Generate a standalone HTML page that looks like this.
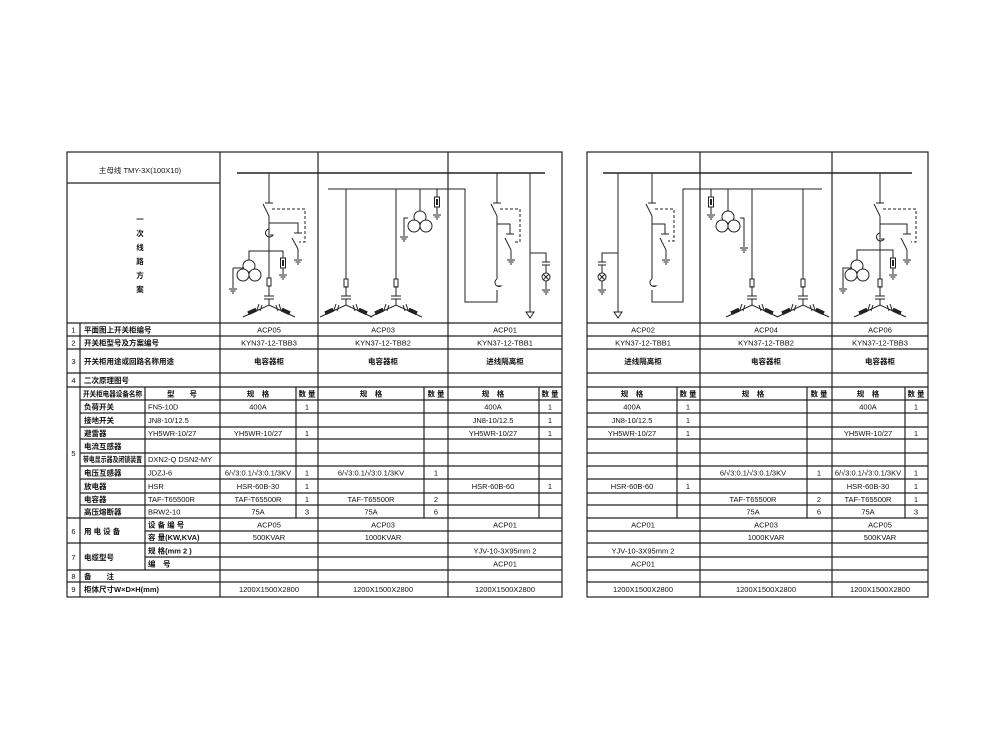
<!DOCTYPE html>
<html><head><meta charset="utf-8"><style>
html,body{margin:0;padding:0;background:#fff;}
svg{display:block}
text{font-family:"Liberation Sans","Noto Sans CJK SC",sans-serif;font-size:7.5px;fill:#111}
.c{text-anchor:middle}
.b{font-weight:bold}
</style></head><body>
<svg width="1000" height="750" viewBox="0 0 1000 750" xmlns="http://www.w3.org/2000/svg">
<rect width="1000" height="750" fill="#fff"/>
<defs>
<g id="gnd" stroke="#222" stroke-width="1"><line x1="-4" y1="0" x2="4" y2="0"/><line x1="-2.5" y1="2" x2="2.5" y2="2"/><line x1="-1" y1="4" x2="1" y2="4"/></g>
<g id="star" stroke="#222" stroke-width="1" fill="none">
<line x1="0" y1="0" x2="0" y2="10"/>
<line x1="-5" y1="10" x2="5" y2="10"/><line x1="-5" y1="13" x2="5" y2="13"/>
<line x1="0" y1="13" x2="0" y2="19"/>
<polyline points="-26,31 0,19 26,31"/>
<line x1="-7" y1="19" x2="-9" y2="25"/><line x1="-10" y1="18" x2="-12" y2="24"/>
<line x1="7" y1="19" x2="9" y2="25"/><line x1="10" y1="18" x2="12" y2="24"/>
<rect x="-21" y="24" width="8" height="3" fill="#222" transform="rotate(-25 -17 25)"/>
<rect x="13" y="24" width="8" height="3" fill="#222" transform="rotate(25 17 25)"/>
</g>
<g id="fuse"><rect x="-2" y="0" width="4" height="8" fill="#fff" stroke="#222"/></g>
<g id="arr"><rect x="-2.5" y="0" width="5" height="10" fill="#fff" stroke="#222"/><rect x="-1" y="2" width="2" height="6" fill="#222"/></g>
<g id="pt" stroke="#222" fill="#fff"><circle cx="0" cy="0" r="6"/><circle cx="-6" cy="9" r="6"/><circle cx="6" cy="9" r="6"/></g>
</defs>

<g stroke="#222" stroke-width="1.2" fill="none">
<rect x="67" y="152" width="495" height="445"/>
<line x1="67" y1="183" x2="220" y2="183"/>
<line x1="220" y1="152" x2="220" y2="597"/>
<line x1="318" y1="152" x2="318" y2="597"/>
<line x1="448" y1="152" x2="448" y2="597"/>
<line x1="80" y1="323" x2="80" y2="597"/>
<line x1="145" y1="387" x2="145" y2="570"/>
<line x1="296" y1="387" x2="296" y2="518"/>
<line x1="424" y1="387" x2="424" y2="518"/>
<line x1="539" y1="387" x2="539" y2="518"/>
<line x1="67" y1="323" x2="562" y2="323"/>
<line x1="67" y1="336" x2="562" y2="336"/>
<line x1="67" y1="349" x2="562" y2="349"/>
<line x1="67" y1="373" x2="562" y2="373"/>
<line x1="67" y1="387" x2="562" y2="387"/>
<line x1="80" y1="400" x2="562" y2="400"/>
<line x1="80" y1="413" x2="562" y2="413"/>
<line x1="80" y1="427" x2="562" y2="427"/>
<line x1="80" y1="439" x2="562" y2="439"/>
<line x1="80" y1="453" x2="562" y2="453"/>
<line x1="80" y1="466" x2="562" y2="466"/>
<line x1="80" y1="479" x2="562" y2="479"/>
<line x1="80" y1="493" x2="562" y2="493"/>
<line x1="80" y1="505" x2="562" y2="505"/>
<line x1="67" y1="518" x2="562" y2="518"/>
<line x1="145" y1="531" x2="562" y2="531"/>
<line x1="67" y1="543" x2="562" y2="543"/>
<line x1="145" y1="557" x2="562" y2="557"/>
<line x1="67" y1="570" x2="562" y2="570"/>
<line x1="67" y1="582" x2="562" y2="582"/>
</g>

<g stroke="#222" stroke-width="1.2" fill="none">
<rect x="587" y="152" width="341" height="445"/>
<line x1="700" y1="152" x2="700" y2="597"/>
<line x1="832" y1="152" x2="832" y2="597"/>
<line x1="677" y1="387" x2="677" y2="518"/>
<line x1="807" y1="387" x2="807" y2="518"/>
<line x1="905" y1="387" x2="905" y2="518"/>
<line x1="587" y1="323" x2="928" y2="323"/>
<line x1="587" y1="336" x2="928" y2="336"/>
<line x1="587" y1="349" x2="928" y2="349"/>
<line x1="587" y1="373" x2="928" y2="373"/>
<line x1="587" y1="387" x2="928" y2="387"/>
<line x1="587" y1="400" x2="928" y2="400"/>
<line x1="587" y1="413" x2="928" y2="413"/>
<line x1="587" y1="427" x2="928" y2="427"/>
<line x1="587" y1="439" x2="928" y2="439"/>
<line x1="587" y1="453" x2="928" y2="453"/>
<line x1="587" y1="466" x2="928" y2="466"/>
<line x1="587" y1="479" x2="928" y2="479"/>
<line x1="587" y1="493" x2="928" y2="493"/>
<line x1="587" y1="505" x2="928" y2="505"/>
<line x1="587" y1="518" x2="928" y2="518"/>
<line x1="587" y1="531" x2="928" y2="531"/>
<line x1="587" y1="543" x2="928" y2="543"/>
<line x1="587" y1="557" x2="928" y2="557"/>
<line x1="587" y1="570" x2="928" y2="570"/>
<line x1="587" y1="582" x2="928" y2="582"/>
</g>

<g stroke="#222" stroke-width="1" fill="none">
<line x1="237" y1="173" x2="545" y2="173" stroke-width="1.4"/>
<line x1="269" y1="173" x2="269" y2="203"/><line x1="265" y1="203" x2="273" y2="203"/>
<line x1="263" y1="204" x2="269" y2="216"/><line x1="269" y1="216" x2="269" y2="289"/>
<polyline points="272,209 305,209 305,242 299,242" stroke-dasharray="3,2"/>
<polyline points="269,223 298,223 298,233"/><line x1="294" y1="233" x2="302" y2="233"/>
<line x1="292" y1="238" x2="298" y2="249"/><line x1="298" y1="249" x2="298" y2="259"/>
<path d="M269,229 a4,4 0 1 0 4,6 h-3"/>
<polyline points="249,262 249,251 283,251 283,258"/>
<line x1="283" y1="268" x2="283" y2="274"/>
<line x1="243" y1="268" x2="233" y2="268"/><line x1="233" y1="268" x2="233" y2="288"/>
</g>
<use href="#gnd" x="298" y="260"/><use href="#arr" x="283" y="258"/><use href="#gnd" x="283" y="275"/>
<use href="#pt" x="249" y="266"/><use href="#gnd" x="233" y="289"/>
<use href="#fuse" x="269" y="278"/><use href="#star" x="269" y="286"/>

<g stroke="#222" stroke-width="1" fill="none">
<polyline points="328,189 465,189 465,302 497,302 497,290"/>
<line x1="346" y1="189" x2="346" y2="279"/><line x1="396" y1="189" x2="396" y2="279"/>
<line x1="420" y1="189" x2="420" y2="211"/>
<polyline points="408,218 404,218 404,236"/>
<line x1="437" y1="189" x2="437" y2="197"/><line x1="437" y1="207" x2="437" y2="214"/>
</g>
<use href="#fuse" x="346" y="279"/><use href="#star" x="346" y="286"/>
<use href="#fuse" x="396" y="279"/><use href="#star" x="396" y="286"/>
<use href="#pt" x="420" y="217"/><use href="#gnd" x="404" y="237"/>
<use href="#arr" x="437" y="197"/><use href="#gnd" x="437" y="215"/>

<g stroke="#222" stroke-width="1" fill="none">
<line x1="497" y1="173" x2="497" y2="203"/><line x1="493" y1="203" x2="501" y2="203"/>
<line x1="491" y1="204" x2="497" y2="216"/><line x1="497" y1="216" x2="497" y2="279"/>
<polyline points="500,209 520,209 520,242 513,242" stroke-dasharray="3,2"/>
<polyline points="497,224 510,224 510,234"/><line x1="506" y1="234" x2="514" y2="234"/>
<line x1="505" y1="238" x2="511" y2="250"/><line x1="511" y1="250" x2="511" y2="259"/>
<path d="M497,279 a4,4 0 1 0 4,7 h-4"/>
<line x1="530" y1="173" x2="530" y2="312"/>
<polygon points="526,312 534,312 530,318"/>
<polyline points="530,253 546,253 546,262"/>
<line x1="542" y1="262" x2="550" y2="262"/><line x1="542" y1="265" x2="550" y2="265"/>
<line x1="546" y1="265" x2="546" y2="273"/>
<circle cx="546" cy="277" r="4"/><line x1="543" y1="274" x2="549" y2="280"/><line x1="549" y1="274" x2="543" y2="280"/>
<line x1="546" y1="281" x2="546" y2="289"/>
</g>
<use href="#gnd" x="511" y="260"/><use href="#gnd" x="546" y="290"/>

<g stroke="#222" stroke-width="1" fill="none">
<line x1="603" y1="173" x2="912" y2="173" stroke-width="1.4"/>
<line x1="618" y1="173" x2="618" y2="312"/>
<polygon points="614,312 622,312 618,318"/>
<polyline points="618,253 602,253 602,262"/>
<line x1="598" y1="262" x2="606" y2="262"/><line x1="598" y1="265" x2="606" y2="265"/>
<line x1="602" y1="265" x2="602" y2="273"/>
<circle cx="602" cy="277" r="4"/><line x1="599" y1="274" x2="605" y2="280"/><line x1="605" y1="274" x2="599" y2="280"/>
<line x1="602" y1="281" x2="602" y2="289"/>
<line x1="652" y1="173" x2="652" y2="203"/><line x1="648" y1="203" x2="656" y2="203"/>
<line x1="646" y1="204" x2="652" y2="216"/><line x1="652" y1="216" x2="652" y2="279"/>
<polyline points="655,209 674,209 674,241 668,241" stroke-dasharray="3,2"/>
<polyline points="652,224 665,224 665,234"/><line x1="661" y1="234" x2="669" y2="234"/>
<line x1="660" y1="238" x2="666" y2="250"/><line x1="666" y1="250" x2="666" y2="259"/>
<path d="M652,279 a4,4 0 1 0 4,7 h-4"/>
<polyline points="652,290 652,302 683,302 683,189 822,189"/>
<line x1="711" y1="189" x2="711" y2="197"/><line x1="711" y1="207" x2="711" y2="214"/>
<line x1="728" y1="189" x2="728" y2="211"/>
<polyline points="740,218 744,218 744,247"/>
<line x1="752" y1="189" x2="752" y2="279"/><line x1="803" y1="189" x2="803" y2="279"/>
<line x1="880" y1="173" x2="880" y2="203"/><line x1="876" y1="203" x2="884" y2="203"/>
<line x1="874" y1="204" x2="880" y2="216"/><line x1="880" y1="216" x2="880" y2="279"/>
<polyline points="883,209 916,209 916,242 911,242" stroke-dasharray="3,2"/>
<polyline points="880,224 907,224 907,234"/><line x1="903" y1="234" x2="911" y2="234"/>
<line x1="901" y1="238" x2="907" y2="250"/><line x1="907" y1="250" x2="907" y2="259"/>
<path d="M880,233 a4,4 0 1 0 4,6 h-3"/>
<polyline points="857,262 857,250 893,250 893,258"/>
<line x1="893" y1="268" x2="893" y2="274"/>
<polyline points="851,268 843,268 843,288"/>
</g>
<use href="#gnd" x="602" y="290"/><use href="#gnd" x="666" y="260"/>
<use href="#arr" x="711" y="197"/><use href="#gnd" x="711" y="215"/>
<use href="#pt" x="728" y="217"/><use href="#gnd" x="744" y="248"/>
<use href="#fuse" x="752" y="279"/><use href="#star" x="752" y="286"/>
<use href="#fuse" x="803" y="279"/><use href="#star" x="803" y="286"/>
<use href="#gnd" x="907" y="260"/><use href="#arr" x="893" y="258"/><use href="#gnd" x="893" y="275"/>
<use href="#pt" x="857" y="266"/><use href="#gnd" x="843" y="289"/>
<use href="#fuse" x="880" y="279"/><use href="#star" x="880" y="286"/>

<text x="140" y="173" class="c">主母线 TMY-3X(100X10)</text>
<g class="b">
<text x="140" y="222" class="c">一</text><text x="140" y="236" class="c">次</text><text x="140" y="250" class="c">线</text>
<text x="140" y="264" class="c">路</text><text x="140" y="278" class="c">方</text><text x="140" y="292" class="c">案</text>
</g>
<g>
<text x="73.5" y="332.5" class="c">1</text><text x="73.5" y="345.5" class="c">2</text><text x="73.5" y="364" class="c">3</text>
<text x="73.5" y="383" class="c">4</text><text x="73.5" y="456" class="c">5</text><text x="73.5" y="534" class="c">6</text>
<text x="73.5" y="560" class="c">7</text><text x="73.5" y="579" class="c">8</text><text x="73.5" y="592" class="c">9</text>
</g>
<g class="b" style="font-size:6.5px">
<text x="84" y="332.5">平面图上开关柜编号</text>
<text x="84" y="345.5">开关柜型号及方案编号</text>
<text x="84" y="364">开关柜用途或回路名称用途</text>
<text x="84" y="383">二次原理图号</text>
<text x="83" y="396.5" textLength="59" lengthAdjust="spacingAndGlyphs">开关柜电器设备名称</text>
<text x="84" y="409.5">负荷开关</text>
<text x="84" y="423">接地开关</text>
<text x="84" y="436">避雷器</text>
<text x="84" y="449">电流互感器</text>
<text x="83" y="462" textLength="59" lengthAdjust="spacingAndGlyphs">带电显示器及闭锁装置</text>
<text x="84" y="475.5">电压互感器</text>
<text x="84" y="489">放电器</text>
<text x="84" y="502">电容器</text>
<text x="84" y="514.5">高压熔断器</text>
<text x="84" y="534">用 电 设 备</text>
<text x="84" y="560">电缆型号</text>
<text x="84" y="579">备　　注</text>
<text x="84" y="592">柜体尺寸W×D×H(mm)</text>
<text x="182" y="396.5" class="c">型　　号</text>
<text x="148" y="527.5">设 备 编 号</text>
<text x="148" y="540">容 量(KW,KVA)</text>
<text x="148" y="553.5">规 格(mm 2 )</text>
<text x="148" y="566.5">编　号</text>
<text x="258" y="396.5" class="c">规　格</text><text x="307" y="396.5" class="c">数 量</text>
<text x="371" y="396.5" class="c">规　格</text><text x="436" y="396.5" class="c">数 量</text>
<text x="493" y="396.5" class="c">规　格</text><text x="550" y="396.5" class="c">数 量</text>
<text x="269" y="364" class="c">电容器柜</text><text x="383" y="364" class="c">电容器柜</text><text x="505" y="364" class="c">进线隔离柜</text>
</g>
<g>
<text x="148" y="409.5">FN5-10D</text><text x="148" y="423">JN8-10/12.5</text><text x="148" y="436">YH5WR-10/27</text>
<text x="148" y="462">DXN2-Q DSN2-MY</text><text x="148" y="475.5">JDZJ-6</text><text x="148" y="489">HSR</text>
<text x="148" y="502">TAF-T65500R</text><text x="148" y="514.5">BRW2-10</text>

<text x="269" y="332.5" class="c">ACP05</text><text x="383" y="332.5" class="c">ACP03</text><text x="505" y="332.5" class="c">ACP01</text>
<text x="269" y="345.5" class="c">KYN37-12-TBB3</text><text x="383" y="345.5" class="c">KYN37-12-TBB2</text><text x="505" y="345.5" class="c">KYN37-12-TBB1</text>

<text x="258" y="409.5" class="c">400A</text><text x="307" y="409.5" class="c">1</text>
<text x="493" y="409.5" class="c">400A</text><text x="550" y="409.5" class="c">1</text>
<text x="493" y="423" class="c">JN8-10/12.5</text><text x="550" y="423" class="c">1</text>
<text x="258" y="436" class="c">YH5WR-10/27</text><text x="307" y="436" class="c">1</text>
<text x="493" y="436" class="c">YH5WR-10/27</text><text x="550" y="436" class="c">1</text>
<text x="258" y="475.5" class="c">6/√3:0.1/√3:0.1/3KV</text><text x="307" y="475.5" class="c">1</text>
<text x="371" y="475.5" class="c">6/√3:0.1/√3:0.1/3KV</text><text x="436" y="475.5" class="c">1</text>
<text x="258" y="489" class="c">HSR-60B-30</text><text x="307" y="489" class="c">1</text>
<text x="493" y="489" class="c">HSR-60B-60</text><text x="550" y="489" class="c">1</text>
<text x="258" y="502" class="c">TAF-T65500R</text><text x="307" y="502" class="c">1</text>
<text x="371" y="502" class="c">TAF-T65500R</text><text x="436" y="502" class="c">2</text>
<text x="258" y="514.5" class="c">75A</text><text x="307" y="514.5" class="c">3</text>
<text x="371" y="514.5" class="c">75A</text><text x="436" y="514.5" class="c">6</text>
<text x="269" y="527.5" class="c">ACP05</text><text x="383" y="527.5" class="c">ACP03</text><text x="505" y="527.5" class="c">ACP01</text>
<text x="269" y="540" class="c">500KVAR</text><text x="383" y="540" class="c">1000KVAR</text>
<text x="505" y="553.5" class="c">YJV-10-3X95mm 2</text><text x="505" y="566.5" class="c">ACP01</text>
<text x="269" y="592" class="c">1200X1500X2800</text><text x="383" y="592" class="c">1200X1500X2800</text><text x="505" y="592" class="c">1200X1500X2800</text>

<text x="643" y="332.5" class="c">ACP02</text><text x="766" y="332.5" class="c">ACP04</text><text x="880" y="332.5" class="c">ACP06</text>
<text x="643" y="345.5" class="c">KYN37-12-TBB1</text><text x="766" y="345.5" class="c">KYN37-12-TBB2</text><text x="880" y="345.5" class="c">KYN37-12-TBB3</text>
<text x="632" y="409.5" class="c">400A</text><text x="688" y="409.5" class="c">1</text>
<text x="868" y="409.5" class="c">400A</text><text x="916" y="409.5" class="c">1</text>
<text x="632" y="423" class="c">JN8-10/12.5</text><text x="688" y="423" class="c">1</text>
<text x="632" y="436" class="c">YH5WR-10/27</text><text x="688" y="436" class="c">1</text>
<text x="868" y="436" class="c">YH5WR-10/27</text><text x="916" y="436" class="c">1</text>
<text x="753" y="475.5" class="c">6/√3:0.1/√3:0.1/3KV</text><text x="819" y="475.5" class="c">1</text>
<text x="868" y="475.5" class="c">6/√3:0.1/√3:0.1/3KV</text><text x="916" y="475.5" class="c">1</text>
<text x="632" y="489" class="c">HSR-60B-60</text><text x="688" y="489" class="c">1</text>
<text x="868" y="489" class="c">HSR-60B-30</text><text x="916" y="489" class="c">1</text>
<text x="753" y="502" class="c">TAF-T65500R</text><text x="819" y="502" class="c">2</text>
<text x="868" y="502" class="c">TAF-T65500R</text><text x="916" y="502" class="c">1</text>
<text x="753" y="514.5" class="c">75A</text><text x="819" y="514.5" class="c">6</text>
<text x="868" y="514.5" class="c">75A</text><text x="916" y="514.5" class="c">3</text>
<text x="643" y="527.5" class="c">ACP01</text><text x="766" y="527.5" class="c">ACP03</text><text x="880" y="527.5" class="c">ACP05</text>
<text x="766" y="540" class="c">1000KVAR</text><text x="880" y="540" class="c">500KVAR</text>
<text x="643" y="553.5" class="c">YJV-10-3X95mm 2</text><text x="643" y="566.5" class="c">ACP01</text>
<text x="643" y="592" class="c">1200X1500X2800</text><text x="766" y="592" class="c">1200X1500X2800</text><text x="880" y="592" class="c">1200X1500X2800</text>
</g>
<g class="b" style="font-size:6.5px">
<text x="643" y="364" class="c">进线隔离柜</text><text x="766" y="364" class="c">电容器柜</text><text x="880" y="364" class="c">电容器柜</text>
<text x="632" y="396.5" class="c">规　格</text><text x="688" y="396.5" class="c">数 量</text>
<text x="753" y="396.5" class="c">规　格</text><text x="819" y="396.5" class="c">数 量</text>
<text x="868" y="396.5" class="c">规　格</text><text x="916" y="396.5" class="c">数 量</text>
</g>
</svg>
</body></html>
